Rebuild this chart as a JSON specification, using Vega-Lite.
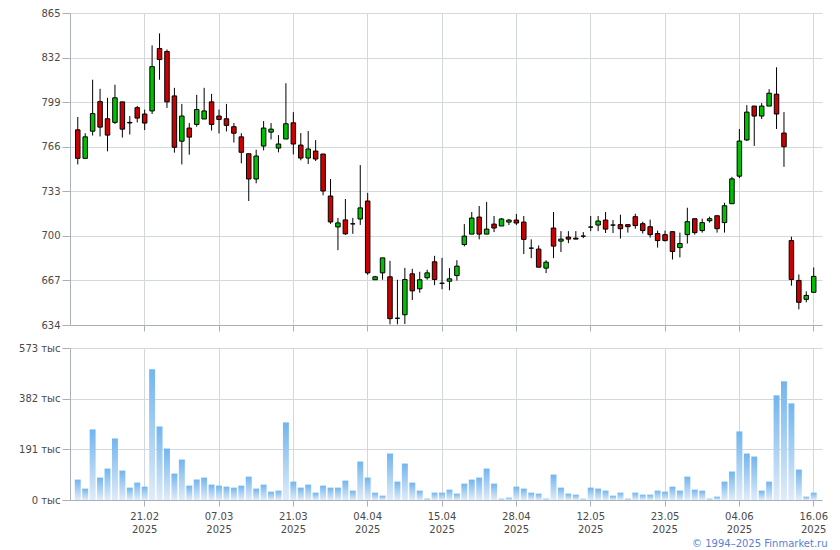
{
  "$schema": "https://vega.github.io/schema/vega-lite/v6.json",
  "padding": {"left": 18, "top": 8, "right": 4, "bottom": 2},
  "bounds": "flush",
  "spacing": 23,
  "config": {
    "view": {"stroke": null},
    "font": "DejaVu Sans",
    "axis": {
      "labelFont": "DejaVu Sans",
      "labelFontSize": 10,
      "labelColor": "#4a4a4a",
      "gridColor": "#d3d8dc",
      "gridOpacity": 1,
      "domainColor": "#a9b0b9",
      "tickColor": "#a9b0b9",
      "labelPadding": 2
    }
  },
  "title": {
    "text": "© 1994–2025 Finmarket.ru",
    "orient": "bottom",
    "anchor": "end",
    "fontSize": 10,
    "fontWeight": "normal",
    "font": "DejaVu Sans",
    "color": "#5a7fd6",
    "offset": 5
  },
  "data": {
    "values": [
      {"d": "10.02", "o": 778.5, "h": 788, "l": 752.9, "c": 757.4, "v": 76.9},
      {"d": "11.02", "o": 757.4, "h": 776, "l": 757.4, "c": 773.3, "v": 42.9},
      {"d": "12.02", "o": 777.5, "h": 815.6, "l": 774.3, "c": 790.5, "v": 266},
      {"d": "13.02", "o": 799.4, "h": 808.9, "l": 773.6, "c": 780.5, "v": 84.5},
      {"d": "14.02", "o": 786.7, "h": 802.2, "l": 762.6, "c": 774.6, "v": 118.5},
      {"d": "17.02", "o": 784, "h": 811.9, "l": 782.8, "c": 802.2, "v": 232},
      {"d": "18.02", "o": 799.2, "h": 799.2, "l": 772.8, "c": 779, "v": 110.9},
      {"d": "19.02", "o": 784, "h": 788.7, "l": 775, "c": 783.6, "v": 46.6},
      {"d": "20.02", "o": 794.9, "h": 796.2, "l": 784, "c": 787.2, "v": 65.6},
      {"d": "21.02", "o": 790.2, "h": 793.5, "l": 778.3, "c": 783.5, "v": 50.4},
      {"d": "24.02", "o": 792.5, "h": 841, "l": 790.2, "c": 825.3, "v": 493},
      {"d": "25.02", "o": 838.7, "h": 849.9, "l": 815.6, "c": 830.5, "v": 277.4},
      {"d": "26.02", "o": 836.5, "h": 838, "l": 794.7, "c": 799.2, "v": 194.1},
      {"d": "27.02", "o": 803.6, "h": 809.6, "l": 761.6, "c": 765.6, "v": 99.6},
      {"d": "28.02", "o": 770.1, "h": 797.7, "l": 752.9, "c": 788.7, "v": 152.5},
      {"d": "03.03", "o": 779.8, "h": 783.5, "l": 760.1, "c": 773.1, "v": 54.2},
      {"d": "04.03", "o": 782.5, "h": 804.4, "l": 780.8, "c": 793.5, "v": 76.9},
      {"d": "05.03", "o": 786.5, "h": 809.6, "l": 786.5, "c": 792.5, "v": 84.5},
      {"d": "06.03", "o": 799.2, "h": 805.1, "l": 778, "c": 782.5, "v": 58},
      {"d": "07.03", "o": 788.7, "h": 793.5, "l": 775.8, "c": 786.2, "v": 54.2},
      {"d": "10.03", "o": 786.7, "h": 797.7, "l": 777.3, "c": 781.8, "v": 50.4},
      {"d": "11.03", "o": 780.8, "h": 783.5, "l": 769.1, "c": 776, "v": 46.6},
      {"d": "12.03", "o": 773.3, "h": 776, "l": 753.7, "c": 761.9, "v": 54.2},
      {"d": "13.03", "o": 760.8, "h": 760.8, "l": 725.8, "c": 742.1, "v": 88.2},
      {"d": "14.03", "o": 742.1, "h": 763.8, "l": 738.9, "c": 759.1, "v": 42.9},
      {"d": "17.03", "o": 766.5, "h": 785, "l": 763.3, "c": 779.8, "v": 58},
      {"d": "18.03", "o": 776.8, "h": 783.5, "l": 771.4, "c": 779, "v": 31.5},
      {"d": "19.03", "o": 765, "h": 774.6, "l": 761.8, "c": 768, "v": 35.3},
      {"d": "20.03", "o": 771.7, "h": 813, "l": 771.7, "c": 783, "v": 292.5},
      {"d": "21.03", "o": 783.7, "h": 791.6, "l": 760.3, "c": 768, "v": 69.3},
      {"d": "24.03", "o": 767.2, "h": 776.1, "l": 755.9, "c": 757.6, "v": 46.6},
      {"d": "25.03", "o": 757.6, "h": 777.6, "l": 753.2, "c": 764.3, "v": 58},
      {"d": "26.03", "o": 762.8, "h": 770.9, "l": 755.4, "c": 756.9, "v": 27.7},
      {"d": "27.03", "o": 760.6, "h": 760.6, "l": 730, "c": 733.2, "v": 54.2},
      {"d": "28.03", "o": 729.5, "h": 742.1, "l": 708.9, "c": 710.3, "v": 46.6},
      {"d": "31.03", "o": 706.6, "h": 713.3, "l": 689.4, "c": 709.6, "v": 46.6},
      {"d": "01.04", "o": 711.8, "h": 727.3, "l": 700.7, "c": 701.5, "v": 73.1},
      {"d": "02.04", "o": 708.9, "h": 713.3, "l": 701.5, "c": 708.9, "v": 35.3},
      {"d": "03.04", "o": 712.5, "h": 752.4, "l": 708.1, "c": 720.7, "v": 145},
      {"d": "04.04", "o": 725.8, "h": 731.8, "l": 671.2, "c": 672.6, "v": 84.5},
      {"d": "05.04", "o": 667.5, "h": 670.4, "l": 667.5, "c": 669.7, "v": 27.7},
      {"d": "07.04", "o": 672.6, "h": 683.7, "l": 667.5, "c": 683.7, "v": 16.4},
      {"d": "08.04", "o": 669.7, "h": 681.5, "l": 634.5, "c": 638.7, "v": 175.2},
      {"d": "09.04", "o": 639, "h": 667.5, "l": 634.5, "c": 639, "v": 69.3},
      {"d": "10.04", "o": 641.6, "h": 676.3, "l": 634.7, "c": 667.7, "v": 137.4},
      {"d": "11.04", "o": 671.9, "h": 675.6, "l": 652.5, "c": 659.3, "v": 65.6},
      {"d": "12.04", "o": 660.8, "h": 673.4, "l": 657.9, "c": 667.5, "v": 35.3},
      {"d": "13.04", "o": 669, "h": 674.9, "l": 667.5, "c": 672.6, "v": 5},
      {"d": "14.04", "o": 680.8, "h": 685.2, "l": 663.5, "c": 667.7, "v": 27.7},
      {"d": "15.04", "o": 664.9, "h": 683.7, "l": 660.5, "c": 664.9, "v": 27.7},
      {"d": "16.04", "o": 666.4, "h": 676.1, "l": 659.7, "c": 668.2, "v": 39},
      {"d": "17.04", "o": 670.6, "h": 682, "l": 666.9, "c": 677.6, "v": 24},
      {"d": "18.04", "o": 693.6, "h": 708.7, "l": 692.2, "c": 699.8, "v": 61.8},
      {"d": "19.04", "o": 701.3, "h": 717.7, "l": 701.3, "c": 713.2, "v": 76.9},
      {"d": "21.04", "o": 713.9, "h": 722.1, "l": 697.4, "c": 701.3, "v": 84.5},
      {"d": "22.04", "o": 701.3, "h": 725.1, "l": 701.3, "c": 705, "v": 118.5},
      {"d": "23.04", "o": 708.7, "h": 714.7, "l": 702.8, "c": 705.8, "v": 61.8},
      {"d": "24.04", "o": 707.3, "h": 713.2, "l": 707.3, "c": 712.5, "v": 5},
      {"d": "25.04", "o": 710.2, "h": 712.5, "l": 708, "c": 711.7, "v": 8.8},
      {"d": "28.04", "o": 711.7, "h": 716.2, "l": 708, "c": 709.5, "v": 50.4},
      {"d": "29.04", "o": 710.2, "h": 714.7, "l": 686.5, "c": 697.4, "v": 42.9},
      {"d": "30.04", "o": 690.9, "h": 697.4, "l": 683.5, "c": 690.9, "v": 27.7},
      {"d": "02.05", "o": 690.2, "h": 692.9, "l": 676.8, "c": 676.8, "v": 24},
      {"d": "03.05", "o": 676.1, "h": 682, "l": 672.4, "c": 680.5, "v": 5},
      {"d": "05.05", "o": 705.8, "h": 717.7, "l": 683.5, "c": 692.4, "v": 95.8},
      {"d": "06.05", "o": 696.1, "h": 703.5, "l": 688, "c": 697.6, "v": 46.6},
      {"d": "07.05", "o": 699.1, "h": 703.5, "l": 694.6, "c": 697.6, "v": 24},
      {"d": "08.05", "o": 698.3, "h": 703.5, "l": 697.6, "c": 697.6, "v": 20.2},
      {"d": "10.05", "o": 699.8, "h": 702.8, "l": 698.3, "c": 699.8, "v": 5},
      {"d": "12.05", "o": 706.5, "h": 714.7, "l": 703.5, "c": 706.5, "v": 46.6},
      {"d": "13.05", "o": 708, "h": 714.7, "l": 703.5, "c": 711, "v": 42.9},
      {"d": "14.05", "o": 711.7, "h": 717.7, "l": 702.1, "c": 705, "v": 35.3},
      {"d": "15.05", "o": 708, "h": 711.7, "l": 702.1, "c": 708, "v": 16.4},
      {"d": "16.05", "o": 708.3, "h": 715.7, "l": 698, "c": 705.3, "v": 27.7},
      {"d": "17.05", "o": 708.3, "h": 708.3, "l": 702.4, "c": 706.8, "v": 5},
      {"d": "19.05", "o": 714.2, "h": 716.4, "l": 705.3, "c": 707.6, "v": 27.7},
      {"d": "20.05", "o": 709, "h": 710.5, "l": 701.7, "c": 703.9, "v": 20.2},
      {"d": "21.05", "o": 706.8, "h": 712, "l": 698.7, "c": 700.9, "v": 20.2},
      {"d": "22.05", "o": 701.7, "h": 703.9, "l": 691.3, "c": 696.5, "v": 35.3},
      {"d": "23.05", "o": 700.9, "h": 703.9, "l": 695.8, "c": 696.5, "v": 31.5},
      {"d": "24.05", "o": 703.1, "h": 703.1, "l": 682.5, "c": 688.4, "v": 50.4},
      {"d": "26.05", "o": 691.3, "h": 702.4, "l": 684, "c": 694.3, "v": 35.3},
      {"d": "27.05", "o": 700.9, "h": 720.8, "l": 694.3, "c": 710.5, "v": 88.2},
      {"d": "28.05", "o": 712.7, "h": 712.7, "l": 700.9, "c": 702.4, "v": 39},
      {"d": "29.05", "o": 703.9, "h": 712.7, "l": 702.4, "c": 709.8, "v": 35.3},
      {"d": "30.05", "o": 711.2, "h": 714.2, "l": 709.8, "c": 712.7, "v": 5},
      {"d": "31.05", "o": 714.9, "h": 714.9, "l": 702.4, "c": 705.3, "v": 12.6},
      {"d": "02.06", "o": 709.8, "h": 724.5, "l": 702.4, "c": 722.3, "v": 69.3},
      {"d": "03.06", "o": 723.8, "h": 743.7, "l": 723.8, "c": 742.2, "v": 107.2},
      {"d": "04.06", "o": 744.2, "h": 779.1, "l": 742.7, "c": 770.2, "v": 258.4},
      {"d": "05.06", "o": 771, "h": 796.8, "l": 770.2, "c": 791.6, "v": 175.2},
      {"d": "06.06", "o": 796.1, "h": 796.1, "l": 766.6, "c": 788.7, "v": 163.9},
      {"d": "07.06", "o": 788.7, "h": 798.3, "l": 786.5, "c": 796.1, "v": 35.3},
      {"d": "08.06", "o": 796.1, "h": 808.6, "l": 796.1, "c": 805.6, "v": 69.3},
      {"d": "09.06", "o": 804.9, "h": 824.8, "l": 779.1, "c": 790.2, "v": 394.6},
      {"d": "10.06", "o": 776.1, "h": 791.6, "l": 751.1, "c": 766, "v": 447.5},
      {"d": "11.06", "o": 696.5, "h": 699.4, "l": 663.1, "c": 667.7, "v": 364.3},
      {"d": "13.06", "o": 667, "h": 671.4, "l": 645.6, "c": 650.8, "v": 114.7},
      {"d": "14.06", "o": 653, "h": 658.9, "l": 650.8, "c": 655.9, "v": 12.6},
      {"d": "16.06", "o": 658.2, "h": 676.6, "l": 658.2, "c": 670, "v": 27.7}
    ]
  },
  "resolve": {"scale": {"x": "shared", "y": "independent"}},
  "vconcat": [
    {
      "width": 752,
      "height": 312,
      "encoding": {
        "x": {
          "field": "d",
          "type": "ordinal",
          "sort": null,
          "scale": {"type": "band", "paddingInner": 0, "paddingOuter": 0.58, "align": 0.47},
          "axis": {
            "title": null,
            "values": ["21.02", "07.03", "21.03", "04.04", "15.04", "28.04", "12.05", "23.05", "04.06", "16.06"],
            "labels": false,
            "grid": true,
            "ticks": true,
            "tickSize": 6,
            "domain": true
          }
        }
      },
      "layer": [
        {
          "mark": {"type": "rule", "color": "#000000", "strokeWidth": 1},
          "encoding": {
            "y": {
              "field": "l",
              "type": "quantitative",
              "scale": {"domain": [634, 865], "zero": false, "nice": false},
              "axis": {"title": null, "values": [634, 667, 700, 733, 766, 799, 832, 865], "grid": true, "tickSize": 8}
            },
            "y2": {"field": "h"}
          }
        },
        {
          "mark": {"type": "bar", "width": 4.5, "stroke": "#000000", "strokeWidth": 1},
          "encoding": {
            "y": {"field": "o", "type": "quantitative"},
            "y2": {"field": "c"},
            "fill": {
              "condition": {"test": "datum.c >= datum.o", "value": "#00c000"},
              "value": "#cc0000"
            }
          }
        }
      ]
    },
    {
      "width": 752,
      "height": 152,
      "mark": {
        "type": "bar",
        "width": {"band": 0.8},
        "fill": {
          "gradient": "linear",
          "x1": 0, "y1": 0, "x2": 0, "y2": 1,
          "stops": [
            {"offset": 0, "color": "#72b5ef"},
            {"offset": 1, "color": "#e0ecf8"}
          ]
        }
      },
      "encoding": {
        "x": {
          "field": "d",
          "type": "ordinal",
          "sort": null,
          "scale": {"type": "band", "paddingInner": 0, "paddingOuter": 0.58, "align": 0.47},
          "axis": {
            "title": null,
            "values": ["21.02", "07.03", "21.03", "04.04", "15.04", "28.04", "12.05", "23.05", "04.06", "16.06"],
            "labelExpr": "[datum.label, '2025']",
            "labelLineHeight": 13,
            "labelAngle": 0,
            "labelPadding": 5,
            "grid": true,
            "tickSize": 6
          }
        },
        "y": {
          "field": "v",
          "type": "quantitative",
          "scale": {"domain": [0, 573], "nice": false},
          "axis": {"title": null, "values": [0, 191, 382, 573], "labelExpr": "datum.value + ' тыс'", "grid": true, "tickSize": 8}
        }
      }
    }
  ]
}
